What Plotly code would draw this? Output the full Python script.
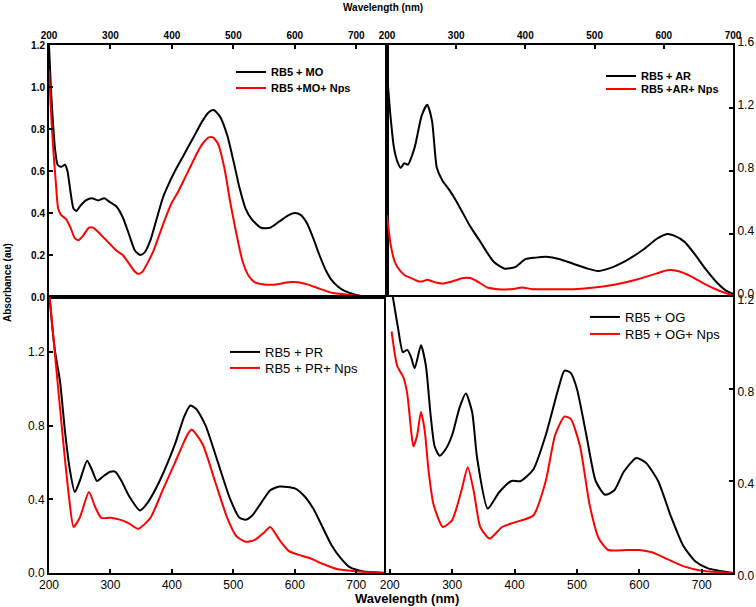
import plotly.graph_objects as go

W, H = 756, 607

# ---------------- data ----------------
mo_black_x = [200, 203, 206, 210, 214, 220, 226, 230, 235, 240, 245, 250, 260, 270, 280, 290, 300, 310, 320, 330, 340, 348, 355, 365, 375, 385, 395, 405, 420, 435, 450, 460, 468, 478, 490, 500, 510, 520, 530, 545, 560, 575, 590, 600, 610, 620, 630, 640, 650, 660, 670, 680, 700, 720, 750]
mo_black_y = [1.2, 1.0, 0.85, 0.7, 0.63, 0.62, 0.63, 0.6, 0.5, 0.42, 0.41, 0.43, 0.46, 0.47, 0.46, 0.47, 0.45, 0.43, 0.38, 0.3, 0.22, 0.2, 0.21, 0.27, 0.37, 0.47, 0.54, 0.6, 0.68, 0.76, 0.84, 0.88, 0.89, 0.86, 0.77, 0.65, 0.52, 0.42, 0.37, 0.33, 0.33, 0.36, 0.39, 0.40, 0.39, 0.35, 0.28, 0.2, 0.13, 0.08, 0.05, 0.03, 0.01, 0.0, 0.0]
mo_red_x = [200, 203, 207, 211, 215, 220, 228, 235, 242, 248, 255, 265, 272, 280, 290, 300, 310, 320, 330, 340, 345, 352, 360, 370, 380, 390, 400, 410, 420, 430, 440, 450, 460, 467, 475, 485, 495, 505, 515, 525, 535, 550, 570, 590, 605, 620, 640, 660, 690, 720, 750]
mo_red_y = [1.08, 0.9, 0.7, 0.55, 0.42, 0.39, 0.37, 0.33, 0.28, 0.27, 0.29, 0.33, 0.33, 0.31, 0.28, 0.25, 0.22, 0.2, 0.16, 0.12, 0.11, 0.12, 0.16, 0.22, 0.3, 0.38, 0.45, 0.5, 0.56, 0.62, 0.68, 0.73, 0.76, 0.76, 0.73, 0.62, 0.45, 0.3, 0.17, 0.1, 0.07, 0.06, 0.06, 0.07, 0.07, 0.06, 0.04, 0.02, 0.01, 0.0, 0.0]

ar_black_x = [200, 205, 210, 215, 220, 225, 230, 240, 250, 258, 265, 272, 280, 290, 300, 310, 320, 335, 345, 355, 370, 385, 400, 415, 430, 450, 470, 490, 505, 520, 545, 570, 590, 605, 615, 630, 645, 660, 675, 690, 700]
ar_black_y = [1.42, 1.15, 0.95, 0.86, 0.82, 0.85, 0.84, 0.95, 1.15, 1.22, 1.12, 0.82, 0.74, 0.68, 0.61, 0.53, 0.45, 0.35, 0.28, 0.22, 0.18, 0.19, 0.24, 0.25, 0.255, 0.24, 0.21, 0.18, 0.165, 0.18, 0.23, 0.3, 0.37, 0.4, 0.39, 0.35, 0.27, 0.18, 0.1, 0.04, 0.02]
ar_red_x = [200, 205, 210, 215, 225, 235, 245, 252, 258, 265, 272, 280, 295, 310, 320, 330, 345, 360, 380, 395, 410, 440, 470, 500, 530, 560, 590, 605, 620, 640, 660, 680, 700]
ar_red_y = [0.52, 0.34, 0.24, 0.19, 0.14, 0.12, 0.1, 0.1, 0.11, 0.1, 0.09, 0.085, 0.1, 0.12, 0.12, 0.1, 0.06, 0.05, 0.05, 0.06, 0.05, 0.05, 0.05, 0.06, 0.08, 0.11, 0.15, 0.17, 0.165, 0.13, 0.08, 0.04, 0.01]

pr_black_x = [201, 205, 210, 218, 226, 234, 242, 250, 262, 270, 278, 290, 300, 308, 318, 330, 348, 360, 380, 405, 420, 430, 440, 455, 475, 495, 510, 520, 530, 545, 560, 575, 600, 615, 630, 645, 660, 675, 690, 710, 750]
pr_black_y = [1.5, 1.35, 1.2, 1.04, 0.77, 0.56, 0.44, 0.5, 0.61, 0.56, 0.5, 0.53, 0.55, 0.55, 0.5, 0.42, 0.34, 0.38, 0.5, 0.7, 0.85, 0.91, 0.89, 0.8, 0.6, 0.4, 0.3, 0.29, 0.31, 0.38, 0.45, 0.47, 0.46, 0.42, 0.35, 0.25, 0.15, 0.08, 0.03, 0.01, 0.0]
pr_red_x = [201, 208, 215, 225, 233, 240, 250, 265, 275, 285, 300, 315, 330, 345, 365, 385, 405, 425, 432, 450, 470, 490, 505, 520, 535, 550, 560, 575, 590, 605, 625, 645, 670, 700, 750]
pr_red_y = [1.5, 1.25, 1.0, 0.65, 0.4, 0.25, 0.3, 0.44, 0.36, 0.3, 0.3, 0.29, 0.27, 0.24, 0.3, 0.45, 0.6, 0.75, 0.78, 0.7, 0.5, 0.3, 0.2, 0.17, 0.18, 0.22, 0.25, 0.18, 0.12, 0.1, 0.08, 0.05, 0.02, 0.01, 0.0]

og_black_x = [205, 213, 221, 228, 234, 240, 250, 258, 265, 272, 280, 290, 300, 312, 322, 332, 340, 357, 375, 395, 410, 430, 450, 470, 480, 490, 500, 515, 530, 545, 560, 575, 595, 610, 630, 650, 670, 690, 710, 750]
og_black_y = [1.2, 1.07, 0.96, 0.97, 0.94, 0.89, 0.99, 0.9, 0.7, 0.55, 0.51, 0.54, 0.6, 0.72, 0.78, 0.7, 0.5, 0.28, 0.35, 0.4, 0.4, 0.45, 0.6, 0.8, 0.88, 0.87, 0.8, 0.6, 0.4, 0.34, 0.36, 0.44, 0.5, 0.48, 0.4, 0.25, 0.12, 0.05, 0.02, 0.0]
og_red_x = [203, 212, 222, 228, 235, 238, 244, 250, 256, 262, 270, 285, 300, 315, 325, 335, 345, 360, 380, 400, 430, 450, 465, 480, 490, 505, 520, 535, 550, 580, 600, 620, 645, 670, 700, 750]
og_red_y = [1.05, 0.9, 0.85, 0.78, 0.6, 0.55, 0.6, 0.7, 0.62, 0.45, 0.3, 0.2, 0.23, 0.36, 0.46, 0.35, 0.2, 0.15, 0.2, 0.22, 0.25, 0.4, 0.6, 0.68, 0.67, 0.55, 0.3, 0.15, 0.1, 0.1, 0.1, 0.09, 0.06, 0.03, 0.01, 0.0]

legend_names = [
    ["RB5 + MO", "RB5 +MO+ Nps"],
    ["RB5 + AR", "RB5 +AR+ Nps"],
    ["RB5 + PR", "RB5 + PR+ Nps"],
    ["RB5 + OG", "RB5 + OG+ Nps"],
]
top_ticks = [200, 300, 400, 500, 600, 700]

# ---------------- figure ----------------
def px(x):
    return x / W

def py(y):
    return 1 - y / H

FONT = "Arial, Liberation Sans, sans-serif"
fig = go.Figure()

panels = [
    (mo_black_x, mo_black_y, mo_red_x, mo_red_y, "x", "y"),
    (ar_black_x, ar_black_y, ar_red_x, ar_red_y, "x2", "y2"),
    (pr_black_x, pr_black_y, pr_red_x, pr_red_y, "x3", "y3"),
    (og_black_x, og_black_y, og_red_x, og_red_y, "x4", "y4"),
]
for i, (bx, by, rx, ry, xa, ya) in enumerate(panels):
    lg_b = "legend" if i == 0 else f"legend{2 * i + 1}"
    lg_r = f"legend{2 * i + 2}"
    fig.add_trace(go.Scatter(x=bx, y=by, mode="lines", line=dict(color="black", width=2, shape="spline", smoothing=0.6),
                             name=legend_names[i][0], xaxis=xa, yaxis=ya, legend=lg_b, showlegend=True))
    fig.add_trace(go.Scatter(x=rx, y=ry, mode="lines", line=dict(color="#ff0000", width=2, shape="spline", smoothing=0.6),
                             name=legend_names[i][1], xaxis=xa, yaxis=ya, legend=lg_r, showlegend=True))

axcommon = dict(showline=True, mirror=True, linecolor="black", linewidth=2, ticks="inside",
                ticklen=4, tickwidth=2, tickcolor="black", showgrid=False, zeroline=False,
                automargin=False)

top_font = dict(family=FONT, size=10, color="black", weight="bold")
bot_font = dict(family=FONT, size=12, color="black")
right_font = dict(family=FONT, size=12, color="black")

fig.update_layout(
    width=W, height=H, margin=dict(l=0, r=0, t=0, b=0, autoexpand=False),
    paper_bgcolor="white", plot_bgcolor="white", showlegend=True,
    xaxis=dict(domain=[px(49), px(387)], range=[200, 750], anchor="y", side="top",
               tickvals=top_ticks, tickfont=top_font, **axcommon),
    yaxis=dict(domain=[py(297), py(45)], range=[0, 1.2], anchor="x", dtick=0.2, tickformat=".1f",
               tickfont=top_font, **axcommon),
    xaxis2=dict(domain=[px(387), px(733)], range=[200, 700], anchor="y2", side="top",
                tickvals=top_ticks, tickfont=top_font, **axcommon),
    yaxis2=dict(domain=[py(297), py(45)], range=[0, 1.6], anchor="x2", side="right",
                tickvals=[0, 0.4, 0.8, 1.2, 1.6], tickformat=".1f", tickfont=right_font,
                ticklabelshift=-3, **axcommon),
    xaxis3=dict(domain=[px(49), px(387)], range=[200, 750], anchor="y3",
                tickvals=top_ticks, tickfont=bot_font, **axcommon),
    yaxis3=dict(domain=[py(573), py(297)], range=[0, 1.5], anchor="x3",
                tickvals=[0, 0.4, 0.8, 1.2], tickformat=".1f", tickfont=right_font, **axcommon),
    xaxis4=dict(domain=[px(386), px(733)], range=[194, 750], anchor="y4",
                tickvals=top_ticks, tickfont=bot_font, **axcommon),
    yaxis4=dict(domain=[py(573), py(297)], range=[0, 1.2], anchor="x4", side="right",
                tickvals=[0, 0.4, 0.8, 1.2], tickformat=".1f", tickfont=right_font,
                ticklabelshift=3, **axcommon),
)

def leg(text_x, y_center, size, bold):
    f = dict(family=FONT, size=size, color="black")
    if bold:
        f["weight"] = "bold"
    return dict(x=px(text_x - 40), y=py(y_center), xanchor="left", yanchor="middle",
                bgcolor="rgba(0,0,0,0)", font=f, tracegroupgap=0, itemwidth=30)

fig.update_layout(
    legend=leg(271, 72, 11, True),
    legend2=leg(271, 88, 11, True),
    legend3=leg(641, 76, 11, True),
    legend4=leg(641, 89, 11, True),
    legend5=leg(265, 352, 13, False),
    legend6=leg(265, 368, 13, False),
    legend7=leg(625, 317, 13, False),
    legend8=leg(625, 334, 13, False),
)

fig.add_annotation(text="<b>Wavelength (nm)</b>", x=px(383), y=py(7), xref="paper", yref="paper",
                   xanchor="center", yanchor="middle", showarrow=False,
                   font=dict(family=FONT, size=10, color="black"))
fig.add_annotation(text="<b>Wavelength (nm)</b>", x=px(407), y=py(598), xref="paper", yref="paper",
                   xanchor="center", yanchor="middle", showarrow=False,
                   font=dict(family=FONT, size=13, color="black"))
fig.add_annotation(text="<b>Absorbance (au)</b>", x=px(7), y=py(283), xref="paper", yref="paper",
                   xanchor="center", yanchor="middle", showarrow=False, textangle=-90,
                   font=dict(family=FONT, size=10, color="black"))

# remove the default 8px page margin so the 756x607 figure fills the window exactly
fig.write_html("out.html", config={"displayModeBar": False},
               post_script="document.body.style.margin='0';document.body.style.overflow='hidden';")
